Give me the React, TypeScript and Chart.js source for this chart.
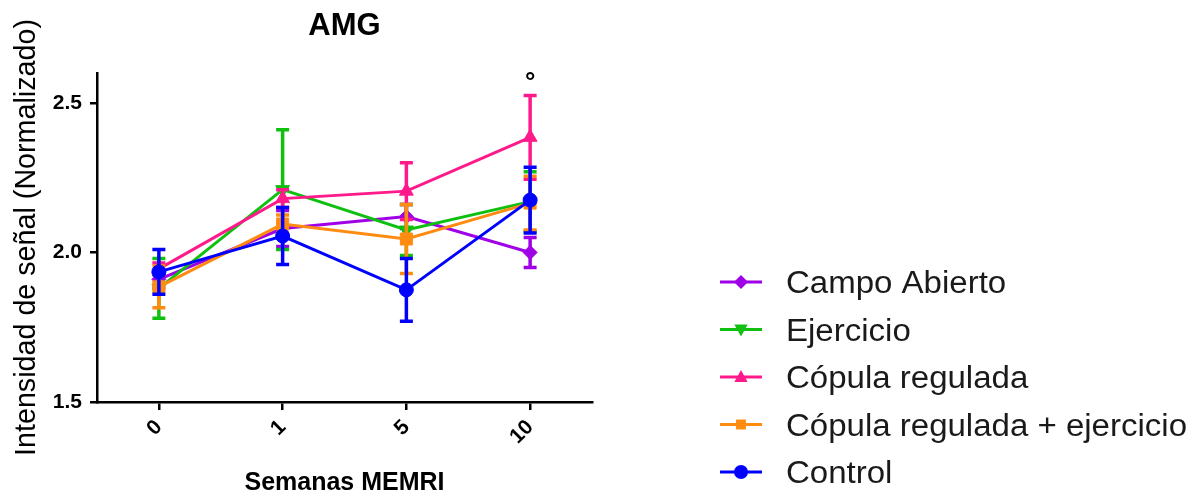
import React, { useEffect, useRef } from "react";
import { Chart, registerables } from "chart.js";

Chart.register(...registerables);

const categories = ["0", "1", "5", "10"];
const yTicks = [1.5, 2.0, 2.5];

const campoAbierto = [1.91, 2.08, 2.12, 2.0];
const campoAbiertoErr = [0.03, 0.06, 0.04, 0.05];
const ejercicio = [1.88, 2.21, 2.075, 2.17];
const ejercicioErr = [0.1, 0.2, 0.085, 0.1];
const copula = [1.945, 2.18, 2.205, 2.385];
const copulaErr = [0.02, 0.03, 0.095, 0.14];
const copulaEjercicio = [1.885, 2.095, 2.045, 2.165];
const copulaEjercicioErr = [0.07, 0.03, 0.115, 0.09];
const control = [1.935, 2.055, 1.875, 2.175];
const controlErr = [0.075, 0.095, 0.105, 0.11];

const seriesNames = [
  "Campo Abierto",
  "Ejercicio",
  "Cópula regulada",
  "Cópula regulada + ejercicio",
  "Control",
];
const seriesColors = ["#A000E6", "#10C010", "#FF1A8C", "#FF8C10", "#0000FF"];

const annotationCategory = "10";
const annotationValue = 2.6;
const annotationText = "°";

const FONT = "'Liberation Sans', Arial, sans-serif";

function drawMarker(ctx: CanvasRenderingContext2D, style: string, x: number, y: number, r: number, rot: number) {
  ctx.save();
  ctx.translate(x, y);
  ctx.rotate((rot * Math.PI) / 180);
  ctx.beginPath();
  if (style === "circle") {
    ctx.arc(0, 0, r, 0, Math.PI * 2);
  } else if (style === "rect") {
    const s = r * Math.SQRT1_2;
    ctx.rect(-s, -s, 2 * s, 2 * s);
  } else if (style === "rectRot") {
    ctx.moveTo(0, -r);
    ctx.lineTo(r, 0);
    ctx.lineTo(0, r);
    ctx.lineTo(-r, 0);
    ctx.closePath();
  } else if (style === "triangle") {
    ctx.moveTo(0, -r);
    ctx.lineTo(r * 0.95, r * 0.7);
    ctx.lineTo(-r * 0.95, r * 0.7);
    ctx.closePath();
  }
  ctx.fill();
  ctx.restore();
}

const pointStyles = ["rectRot", "triangle", "triangle", "rect", "circle"];
const pointRotations = [0, 180, 0, 0, 0];
const pointRadii = [7, 8, 8, 8.5, 7];

const errorBarPlugin = {
  id: "errorBars",
  afterDatasetDraw(chart: any, args: any) {
    const ds = chart.data.datasets[args.index];
    const errs: number[] = ds.errors;
    if (!errs) return;
    const yScale = chart.scales.y;
    const ctx = chart.ctx;
    ctx.save();
    ctx.strokeStyle = ds.borderColor;
    ctx.lineWidth = 3.5;
    args.meta.data.forEach((pt: any, i: number) => {
      const v = ds.data[i];
      const yt = yScale.getPixelForValue(v + errs[i]);
      const yb = yScale.getPixelForValue(v - errs[i]);
      const x = pt.x;
      const cw = 6.5;
      ctx.beginPath();
      ctx.moveTo(x, yt);
      ctx.lineTo(x, yb);
      ctx.moveTo(x - cw, yt);
      ctx.lineTo(x + cw, yt);
      ctx.moveTo(x - cw, yb);
      ctx.lineTo(x + cw, yb);
      ctx.stroke();
    });
    ctx.restore();
  },
};

const decorPlugin = {
  id: "decor",
  afterDraw(chart: any) {
    const ctx = chart.ctx;
    const area = chart.chartArea;
    ctx.save();
    // title
    ctx.fillStyle = "#000";
    ctx.font = `bold 31px ${FONT}`;
    ctx.textAlign = "center";
    ctx.textBaseline = "alphabetic";
    ctx.fillText("AMG", (area.left + area.right) / 2, 35);
    // annotation
    const ax = chart.scales.x.getPixelForValue(categories.indexOf(annotationCategory));
    const ay = chart.scales.y.getPixelForValue(annotationValue);
    ctx.font = `bold 26px ${FONT}`;
    ctx.fillText(annotationText, ax, ay + 17);
    // legend
    const lx0 = 720;
    const lx1 = 762;
    const ly0 = 282;
    const step = 47.5;
    seriesNames.forEach((name, i) => {
      const y = ly0 + i * step;
      const c = seriesColors[i];
      ctx.strokeStyle = c;
      ctx.fillStyle = c;
      ctx.lineWidth = 3;
      ctx.beginPath();
      ctx.moveTo(lx0, y);
      ctx.lineTo(lx1, y);
      ctx.stroke();
      drawMarker(ctx, pointStyles[i], (lx0 + lx1) / 2, y, 7, pointRotations[i]);
      ctx.save();
      ctx.fillStyle = "#1a1a1a";
      ctx.font = `31px ${FONT}`;
      ctx.textAlign = "left";
      ctx.textBaseline = "alphabetic";
      ctx.translate(786, y + 11);
      ctx.scale(1.065, 1);
      ctx.fillText(name, 0, 0);
      ctx.restore();
    });
    ctx.restore();
  },
};

export default function App() {
  const ref = useRef<HTMLCanvasElement | null>(null);
  useEffect(() => {
    document.body.style.margin = "0";
    const canvas = ref.current;
    if (!canvas) return;
    const allData = [campoAbierto, ejercicio, copula, copulaEjercicio, control];
    const allErr = [campoAbiertoErr, ejercicioErr, copulaErr, copulaEjercicioErr, controlErr];
    const orders = [4, 3, 2, 1, 0];
    const chart = new Chart(canvas, {
      type: "line",
      data: {
        labels: categories,
        datasets: seriesNames.map((name, i) => ({
          label: name,
          data: allData[i],
          errors: allErr[i],
          borderColor: seriesColors[i],
          backgroundColor: seriesColors[i],
          borderWidth: 3,
          pointStyle: pointStyles[i],
          rotation: pointRotations[i],
          pointRadius: pointRadii[i],
          pointBorderWidth: 1,
          order: orders[i],
          tension: 0,
        })) as any,
      },
      options: {
        animation: false,
        responsive: false,
        events: [],
        layout: { padding: { top: 73, right: 601, left: 0, bottom: 0 } },
        plugins: {
          legend: { display: false },
          tooltip: { enabled: false },
          title: { display: false },
        },
        scales: {
          x: {
            type: "category",
            offset: true,
            grid: {
              display: true,
              drawOnChartArea: false,
              drawTicks: true,
              tickLength: 8,
              color: "#000",
              lineWidth: 2.5,
              offset: false,
            },
            border: { display: true, color: "#000", width: 2.5 },
            ticks: {
              color: "#000",
              font: { family: FONT, size: 21, weight: "bold" },
              minRotation: 45,
              maxRotation: 45,
              padding: 5,
            },
            title: {
              display: true,
              text: "Semanas MEMRI",
              color: "#000",
              font: { family: FONT, size: 25, weight: "bold" },
              padding: { top: 4, bottom: -3 },
            },
            afterFit(scale: any) {
              scale.height = 93;
            },
          },
          y: {
            type: "linear",
            min: 1.5,
            max: 2.6,
            grid: {
              display: true,
              drawOnChartArea: false,
              drawTicks: true,
              tickLength: 7,
              color: "#000",
              lineWidth: 2.5,
            },
            border: { display: true, color: "#000", width: 2.5 },
            ticks: {
              color: "#000",
              font: { family: FONT, size: 21, weight: "bold" },
              padding: 8,
              callback: (v: any) => Number(v).toFixed(1),
            },
            afterBuildTicks(axis: any) {
              axis.ticks = yTicks.map((v) => ({ value: v }));
            },
            title: {
              display: true,
              text: "Intensidad de señal (Normalizado)",
              color: "#000",
              font: { family: FONT, size: 28.7, weight: "normal" },
              padding: { top: 10, bottom: 0 },
            },
            afterFit(scale: any) {
              scale.width = 97;
            },
          },
        },
      },
      plugins: [errorBarPlugin, decorPlugin],
    } as any);
    return () => chart.destroy();
  }, []);
  return (
    <div style={{ position: "absolute", left: 0, top: 0, width: 1193, height: 495, background: "#fff" }}>
      <canvas ref={ref} width={1193} height={495} style={{ display: "block" }} />
    </div>
  );
}
